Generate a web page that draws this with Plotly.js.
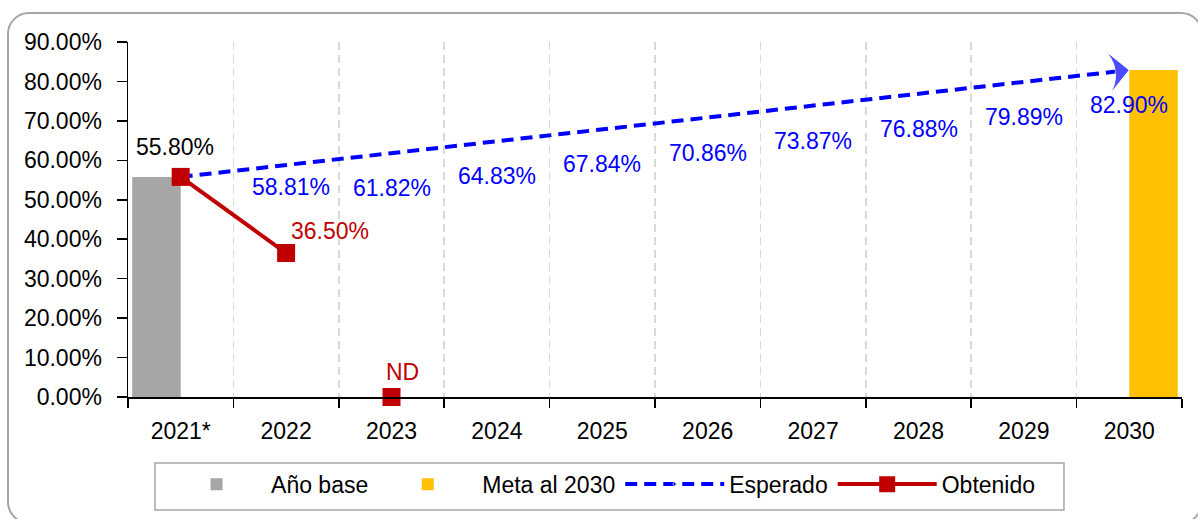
<!DOCTYPE html>
<html>
<head>
<meta charset="utf-8">
<script src="https://cdn.plot.ly/plotly-3.0.1.min.js"></script>
<style>
  html, body { margin: 0; padding: 0; background: #ffffff; }
  #wrap { position: relative; width: 1198px; height: 519px; overflow: hidden; }
  #chart { position: absolute; left: 0; top: 0; width: 1198px; height: 519px; }
  #frame { position: absolute; left: 7px; top: 12px; width: 1196px; height: 512px; box-sizing: border-box;
           border: 2px solid #a6a6a6; border-radius: 22px; pointer-events: none; }
</style>
</head>
<body>
<div id="wrap">
  <div id="chart"></div>
  <div id="frame"></div>
</div>
<script>
// ---- data ----
const categories = ['2021*', '2022', '2023', '2024', '2025', '2026', '2027', '2028', '2029', '2030'];
const anoBase   = [55.80, null, null, null, null, null, null, null, null, null];
const meta2030  = [null, null, null, null, null, null, null, null, null, 82.90];
const esperado  = [55.80, 58.81, 61.82, 64.83, 67.84, 70.86, 73.87, 76.88, 79.89, 82.90];
const obtenidoCats = ['2021*', '2022'];
const obtenido     = [55.80, 36.50];
const ndCats   = ['2023'];
const ndValues = [0];
const ndLabels = ['ND'];
const yTickVals = [0, 10, 20, 30, 40, 50, 60, 70, 80, 90];

// ---- style ----
const FONT = 'Liberation Sans, Arial, sans-serif';
const FS = 23;
const BLUE = '#0000ff', RED = '#c00000', GRAY = '#a6a6a6', GOLD = '#ffc000';

const traces = [
  { type: 'bar', name: 'Año base', x: categories, y: anoBase, offset: -0.46, width: 0.46,
    marker: { color: GRAY }, hoverinfo: 'skip' },
  { type: 'bar', name: 'Meta al 2030', x: categories, y: meta2030, offset: 0, width: 0.46,
    marker: { color: GOLD }, hoverinfo: 'skip' },
  { type: 'scatter', mode: 'lines+markers', name: 'Esperado', x: categories, y: esperado,
    line: { color: BLUE, width: 4, dash: '12px,7px' },
    marker: { color: BLUE,
              symbol: esperado.map((v, i) => i === esperado.length - 1 ? 'arrow-wide' : 'circle'),
              size: esperado.map((v, i) => i === esperado.length - 1 ? 34 : 0),
              angleref: 'previous' },
    hoverinfo: 'skip', cliponaxis: false },
  { type: 'scatter', mode: 'lines+markers', name: 'Obtenido', x: obtenidoCats, y: obtenido,
    line: { color: RED, width: 4 },
    marker: { color: RED, symbol: 'square', size: 18 }, hoverinfo: 'skip', cliponaxis: false },
  { type: 'scatter', mode: 'markers', name: 'ND', showlegend: false, x: ndCats, y: ndValues,
    marker: { color: RED, symbol: 'square', size: 18 }, hoverinfo: 'skip', cliponaxis: false }
];

// ---- data labels (x given as category index) ----
const annotations = [];
function lab(cat, y, text, color, xs, ys) {
  annotations.push({ x: categories.indexOf(cat), y: y, xref: 'x', yref: 'y', text: text, showarrow: false,
    xshift: xs, yshift: ys, xanchor: 'center', yanchor: 'middle',
    font: { family: FONT, size: FS, color: color } });
}
lab(categories[0], anoBase[0], anoBase[0].toFixed(2) + '%', '#000000', -6, 30);
for (let i = 1; i < esperado.length; i++) {
  const ys = (i === 1) ? -22 : -35;
  const xs = (i === 1) ? 5 : 0;
  lab(categories[i], esperado[i], esperado[i].toFixed(2) + '%', BLUE, xs, ys);
}
lab(obtenidoCats[1], obtenido[1], obtenido[1].toFixed(2) + '%', RED, 44, 22);
lab(ndCats[0], ndValues[0], ndLabels[0], RED, 11, 25);

const layout = {
  width: 1198, height: 519,
  margin: { l: 128, r: 16, t: 42, b: 122, pad: 0 },
  paper_bgcolor: '#ffffff', plot_bgcolor: '#ffffff',
  font: { family: FONT, size: FS, color: '#000000' },
  barmode: 'overlay',
  showlegend: true,
  xaxis: {
    type: 'category', categoryorder: 'array', categoryarray: categories,
    range: [-0.5, 9.5], tickson: 'boundaries',
    showline: true, linecolor: '#000000', linewidth: 1.5,
    ticks: 'outside', ticklen: 9, tickwidth: 1.5, tickcolor: '#000000',
    showgrid: true, gridcolor: '#d9d9d9', gridwidth: 1.5, griddash: '8px,5px',
    zeroline: false, ticklabelstandoff: 13,
    tickfont: { family: FONT, size: FS, color: '#000000' }, fixedrange: true
  },
  yaxis: {
    range: [0, 90], tickmode: 'array', tickvals: yTickVals,
    ticktext: yTickVals.map(v => v.toFixed(2) + '%'),
    showline: true, linecolor: '#000000', linewidth: 1.5,
    ticks: 'outside', ticklen: 10, tickwidth: 1.5, tickcolor: '#000000',
    showgrid: false, zeroline: false, ticklabelstandoff: 10,
    tickfont: { family: FONT, size: FS, color: '#000000' }, fixedrange: true
  },
  legend: {
    orientation: 'h', x: 0.0323, xanchor: 'left', y: -0.185, yanchor: 'top',
    borderwidth: 0, bgcolor: 'rgba(0,0,0,0)',
    font: { family: FONT, size: FS, color: '#000000' },
    itemwidth: 99, traceorder: 'normal'
  },
  shapes: [
    { type: 'rect', xref: 'paper', yref: 'paper', x0: 0.0256, x1: 0.888, y0: -0.318, y1: -0.186,
      line: { color: '#a6a6a6', width: 1.5 }, fillcolor: 'rgba(0,0,0,0)', layer: 'below' }
  ],
  annotations: annotations
};

Plotly.newPlot('chart', traces, layout, { staticPlot: true, displayModeBar: false });
</script>
</body>
</html>
